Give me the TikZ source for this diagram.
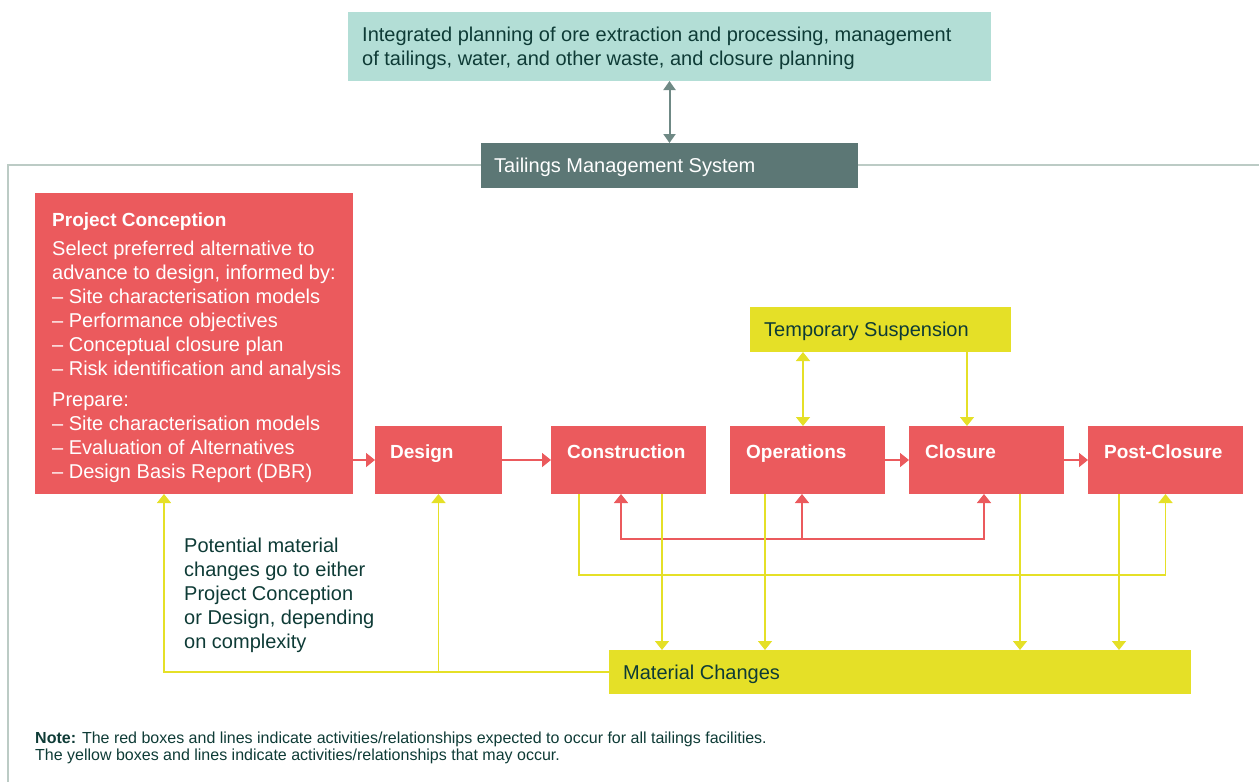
\documentclass[tikz,border=0pt]{standalone}
\usepackage{fontspec}
\setmainfont{Liberation Sans}
\usetikzlibrary{arrows.meta}
\definecolor{planteal}{HTML}{B3DED6}
\definecolor{tmsgray}{HTML}{5C7775}
\definecolor{actred}{HTML}{EB5A5D}
\definecolor{mayyellow}{HTML}{E5E027}
\definecolor{framegray}{HTML}{BCCBC5}
\definecolor{linkgray}{HTML}{6F8985}
\definecolor{inkgreen}{HTML}{0E3B36}
\begin{document}
\begin{tikzpicture}[x=1pt,y=-1pt,>={Triangle[width=14pt,length=9pt]},
  boxbase/.style={anchor=north west,inner sep=0pt,outer sep=0pt,minimum width=155pt},
  redbox/.style={boxbase,fill=actred,minimum height=68pt},
  yellowbox/.style={boxbase,fill=mayyellow,minimum height=45pt},
  darktext/.style={inner sep=0pt,anchor=base west,text=inkgreen,font=\fontsize{20}{24}\selectfont},
  whitehead/.style={inner sep=0pt,anchor=base west,text=white,font=\fontsize{19}{24}\selectfont\bfseries},
  redline/.style={draw=actred,line width=1.6pt},
  yellowline/.style={draw=mayyellow,line width=1.6pt}]
\useasboundingbox (0,0) rectangle (1259,782);
\draw[framegray,line width=2pt] (1259,165) -- (8,165) -- (8,782);

\node[boxbase,fill=planteal,minimum width=643pt,minimum height=69pt] (plan) at (348,12) {};
\node[darktext,anchor=north west,align=left] (plantxt) at (362,26.5) {Integrated planning of ore extraction and processing, management\\of tailings, water, and other waste, and closure planning};
\node[boxbase,fill=tmsgray,minimum width=377pt,minimum height=45pt] (tms) at (481,143) {};
\node[darktext,text=white] (tmstxt) at (494,172) {Tailings Management System};
\draw[linkgray,line width=2pt,{Triangle[width=12pt,length=9pt]}-{Triangle[width=12pt,length=9pt]}] (plan) -- (tms);

\node[boxbase,fill=actred,minimum width=318pt,minimum height=301pt] (concept) at (35,193) {};
\node[darktext,text=white,anchor=north west,align=left] (concepttxt) at (52,212.5) {{\bfseries\fontsize{19}{24}\selectfont Project Conception}\\[5pt]
  Select preferred alternative to\\ advance to design, informed by:\\ – Site characterisation models\\ – Performance objectives\\
  – Conceptual closure plan\\ – Risk identification and analysis\\[7pt] Prepare:\\ – Site characterisation models\\
  – Evaluation of Alternatives\\ – Design Basis Report (DBR)};
\node[redbox,minimum width=127pt] (design) at (375,426) {};
\node[redbox] (constr) at (551,426) {};
\node[redbox] (ops) at (730,426) {};
\node[redbox] (closure) at (909,426) {};
\node[redbox] (post) at (1088,426) {};
\node[whitehead] (designtxt) at (390,458) {Design};
\node[whitehead] (constrtxt) at (567,458) {Construction};
\node[whitehead] (opstxt) at (746,458) {Operations};
\node[whitehead] (closuretxt) at (925,458) {Closure};
\node[whitehead] (posttxt) at (1104,458) {Post-Closure};

\node[yellowbox,minimum width=261pt] (susp) at (750,307) {};
\node[darktext] (susptxt) at (764,336) {Temporary Suspension};
\node[yellowbox,minimum width=582pt,minimum height=44pt] (matchg) at (609,650) {};
\node[darktext] (matchgtxt) at (623,679) {Material Changes};

\draw[redline,->] (design.west -| concept.east) -- (design.west);
\draw[redline,->] (design) -- (constr);
\draw[redline,->] (ops) -- (closure);
\draw[redline,->] (closure) -- (post);
\draw[redline,<->] ([xshift=70pt]constr.south west) |- ([xshift=75pt,yshift=-45pt]closure.south west) -- ([xshift=75pt]closure.south west);
\draw[redline,->] ([xshift=72pt,yshift=-45pt]ops.south west) -- ([xshift=72pt]ops.south west);

\draw[yellowline,<->] ([xshift=53pt]susp.south west) coordinate (ts1) -- (ts1 |- ops.north);
\draw[yellowline,->] ([xshift=217pt]susp.south west) coordinate (ts2) -- (ts2 |- closure.north);
\draw[yellowline,->] ([xshift=28pt]constr.south west) |- ([yshift=-81pt]post.south) -- (post.south);
\draw[yellowline,->] ([xshift=111pt]constr.south west) coordinate (ym1) -- (ym1 |- matchg.north);
\draw[yellowline,->] ([xshift=35pt]ops.south west) coordinate (ym2) -- (ym2 |- matchg.north);
\draw[yellowline,->] ([xshift=111pt]closure.south west) coordinate (ym3) -- (ym3 |- matchg.north);
\draw[yellowline,->] ([xshift=31pt]post.south west) coordinate (ym4) -- (ym4 |- matchg.north);
\draw[yellowline,->] (matchg.west) -| ([xshift=129pt]concept.south west);
\draw[yellowline,->] (matchg.west -| design.south) -- (design.south);

\node[darktext,anchor=north west,align=left] (changenote) at (184,537.5) {Potential material\\changes go to either\\Project Conception\\or Design, depending\\on complexity};
\node[darktext,anchor=north west,align=left,font=\fontsize{16}{17.5}\selectfont] (legend) at (35,731.5) {\textbf{Note:} The red boxes and lines indicate activities/relationships expected to occur for all tailings facilities.\\The yellow boxes and lines indicate activities/relationships that may occur.};
\end{tikzpicture}
\end{document}
